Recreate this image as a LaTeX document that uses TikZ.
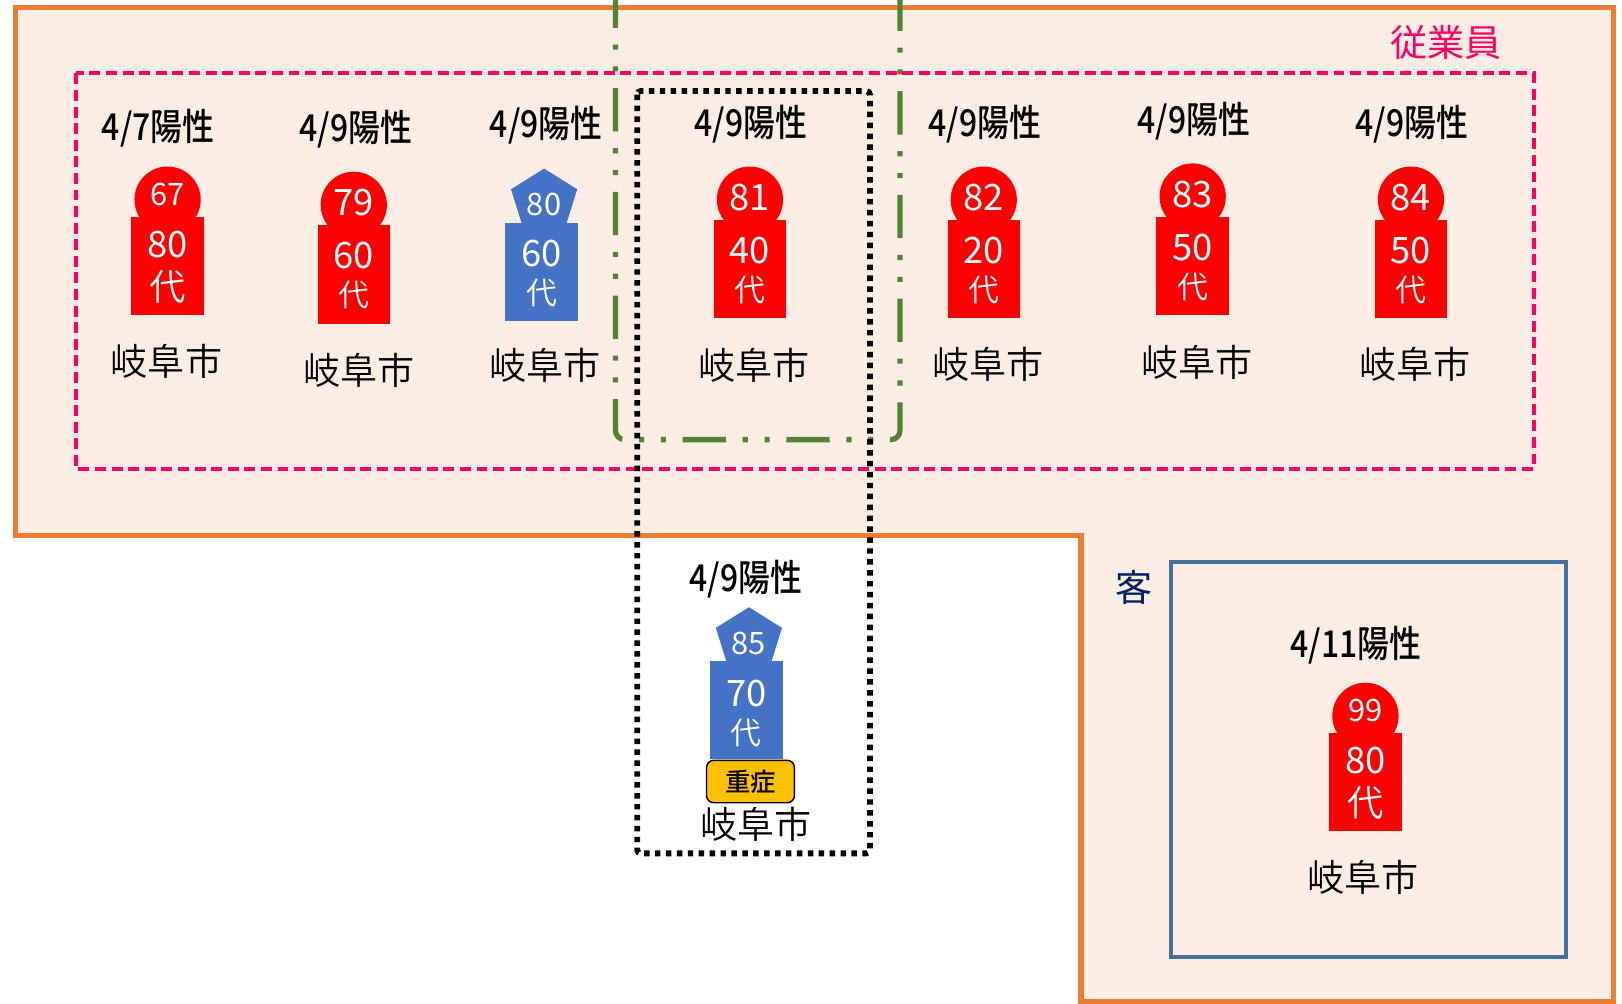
\documentclass[tikz,border=0pt]{standalone}
\usepackage{fontspec}
\setmainfont{Noto Sans CJK JP}
\newfontfamily\duenn{Noto Sans CJK JP DemiLight}
\newfontfamily\mittel{Noto Sans CJK JP Medium}
\definecolor{rahmen}{HTML}{ED7D31}
\definecolor{flaeche}{HTML}{FBEDE3}
\definecolor{rosa}{HTML}{FF0066}
\definecolor{gruen}{HTML}{548235}
\definecolor{blau}{HTML}{4472C4}
\definecolor{kasten}{HTML}{41719C}
\definecolor{marine}{HTML}{002060}
\definecolor{gelb}{HTML}{FFC000}
\tikzset{
	body/.style={minimum width=0.70cm,minimum height=0.95cm,inner sep=0pt,anchor=north},
	head/.style={circle,fill=red,minimum size=0.64cm,inner sep=0pt},
	numsmall/.style={text=white,font=\fontsize{8.5}{10}\selectfont},
	numlarge/.style={text=white,font=\fontsize{10}{12}\selectfont},
	daismall/.style={text=white,font=\duenn\fontsize{8.5}{10}\selectfont},
	dailarge/.style={text=white,font=\duenn\fontsize{10}{12}\selectfont},
	citytext/.style={font=\duenn\fontsize{10.2}{12}\selectfont},
	titletext/.style={font=\mittel\fontsize{10.2}{12}\selectfont},
}
\newcommand{\schmal}[1]{\scalebox{0.86}[1]{#1}}
\begin{document}
\begin{tikzpicture}[x=0.01cm,y=-0.01cm]
		\useasboundingbox (0,0) rectangle (1568,970);
		% Flaeche
		\draw[rahmen,fill=flaeche,line width=1.4pt] (15,7) -- (1560,7) -- (1560,968) -- (1045,968) -- (1045,518) -- (15,518) -- cycle;
		% Gruppen
		\draw[kasten,line width=1.2pt] (1132,543) rectangle (1514,925);
		\draw[gruen,line width=1.45pt,rounded corners=2.5pt,dash pattern=on 11.9pt off 4.6pt on 1.4pt off 4.6pt on 1.4pt off 4.6pt] (595,-15) -- (595,425) -- (870,425) -- (870,-15);
		\draw[rosa,line width=1.1pt,dash pattern=on 3pt off 1.56pt] (73,71) rectangle (1483,453);
		\draw[black,line width=1.6pt,rounded corners=1pt,dash pattern=on 1.5pt off 1.5pt] (616,88) rectangle (841,825);
		% Beschriftungen
		\node[rosa,font=\fontsize{10.2}{12}\selectfont] (staff) at (1398,41) {従業員};
		\node[marine,font=\fontsize{10.2}{12}\selectfont] (guest) at (1096,568) {客};
		% rote Figuren
		\foreach \n/\cx/\yt/\num/\age/\ady/\nst/\dst/\tx/\ty/\ox/\oy/\dat in {
			67/162/209/67/80/27/numsmall/dailarge/153/123/161/349/4\slash 7,
			79/342/217/79/60/30/numlarge/daismall/344/124/347/358/4\slash 9,
			81/725/212/81/40/30/numlarge/daismall/726/119/729/353/4\slash 9,
			82/951/212/82/20/30/numlarge/daismall/952/119/955/352/4\slash 9,
			83/1153/209/83/50/30/numlarge/daismall/1154/116/1157/350/4\slash 9,
			84/1364/212/84/50/30/numlarge/daismall/1365/119/1368/352/4\slash 9,
			99/1320/708/99/80/27/numsmall/dailarge/1311/623/1318/848/4\slash 11}{
			\node[head] (head\n) at (\cx,\yt-\ady+11) {};
			\node[body,fill=red] (body\n) at (\cx,\yt) {};
			\node[\nst] (num\n) at (\cx,\yt-21) {\num};
			\node[numlarge] (age\n) at (\cx,\yt+\ady) {\age};
			\node[\dst] (dai\n) at (\cx,\yt+68) {代};
			\node[titletext] (title\n) at (\tx,\ty+1) {\schmal{\dat 陽性}};
			\node[citytext] (city\n) at (\ox,\oy) {岐阜市};
		}
		% blaue Figuren
		\foreach \n/\hx/\cx/\top/\yt/\age/\ady/\ddy/\nx/\tx/\ty/\ox/\oy in {
			80/526/523.5/163/215/60/30/68/526/528/120/527/353,
			85/724/721.5/587/638/70/32/71/724/721/559/731/797}{
			\fill[blau] (\hx,\top) -- (\hx+32,\top+20) -- (\hx+21,\top+55) -- (\hx-21,\top+55) -- (\hx-32,\top+20) -- cycle;
			\node[body,fill=blau] (body\n) at (\cx,\yt) {};
			\node[numsmall] (num\n) at (\nx,\top+35) {\n};
			\node[numlarge] (age\n) at (\cx,\yt+\ady) {\age};
			\node[daismall] (dai\n) at (\cx,\yt+\ddy) {代};
			\node[titletext] (title\n) at (\tx,\ty+1) {\schmal{4\slash 9陽性}};
			\node[citytext] (city\n) at (\ox,\oy) {岐阜市};
		}
		% Zusatz
		\node[draw=black,fill=gelb,rounded corners=2pt,minimum width=0.85cm,minimum height=0.41cm,inner sep=0pt,font=\mittel\fontsize{7}{8}\selectfont] (badge) at (725.5,755.5) {\raisebox{-0.8pt}{重症}};
	\end{tikzpicture}
\end{document}
